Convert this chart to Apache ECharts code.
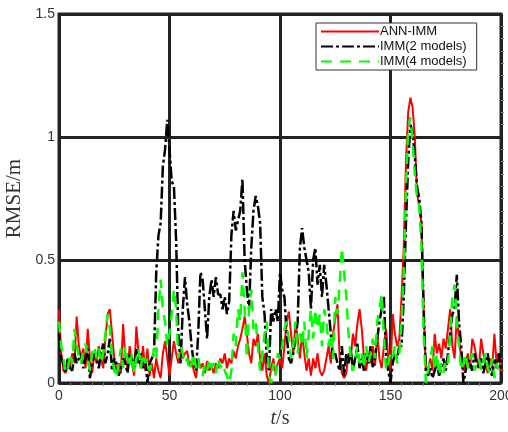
<!DOCTYPE html>
<html>
<head>
<meta charset="utf-8">
<script src="https://cdn.jsdelivr.net/npm/echarts@6/dist/echarts.min.js"></script>
<style>
  html, body { margin: 0; padding: 0; background: #fff; }
  #main { width: 508px; height: 432px; }
</style>
</head>
<body>
<div id="main"></div>
<script>
// 数据：t = 0..200 s，每秒一个点
var xTicks = [0, 50, 100, 150, 200];
var yTicks = [0, 0.5, 1, 1.5];
var names = ['ANN-IMM', 'IMM(2 models)', 'IMM(4 models)'];

// ANN-IMM
var annImm = [
  0.30, 0.12, 0.05, 0.04, 0.10, 0.07, 0.12, 0.08, 0.27, 0.15,
  0.10, 0.14, 0.06, 0.22, 0.10, 0.04, 0.12, 0.08, 0.15, 0.10,
  0.06, 0.18, 0.28, 0.30, 0.20, 0.10, 0.05, 0.08, 0.04, 0.24,
  0.10, 0.06, 0.15, 0.08, 0.03, 0.23, 0.12, 0.06, 0.15, 0.05,
  0.14, 0.03, 0.08, 0.02, 0.10, 0.05, 0.02, 0.12, 0.17, 0.10,
  0.03, 0.10, 0.17, 0.12, 0.08, 0.13, 0.10, 0.12, 0.13, 0.07,
  0.09, 0.05, 0.02, 0.10, 0.06, 0.08, 0.04, 0.09, 0.05, 0.07,
  0.04, 0.08, 0.06, 0.10, 0.08, 0.12, 0.06, 0.10, 0.08, 0.13,
  0.10, 0.15, 0.18, 0.22, 0.27, 0.20, 0.12, 0.08, 0.18, 0.15,
  0.20, 0.10, 0.05, 0.12, 0.03, 0.00, 0.06, 0.10, 0.04, 0.08,
  0.10, 0.06, 0.15, 0.25, 0.29, 0.20, 0.12, 0.24, 0.18, 0.10,
  0.20, 0.12, 0.05, 0.10, 0.03, 0.10, 0.06, 0.12, 0.05, 0.03,
  0.05, 0.10, 0.15, 0.08, 0.20, 0.26, 0.32, 0.10, 0.04, 0.02,
  0.04, 0.12, 0.10, 0.20, 0.15, 0.24, 0.30, 0.22, 0.10, 0.05,
  0.12, 0.08, 0.15, 0.07, 0.20, 0.10, 0.06, 0.15, 0.22, 0.10,
  0.05, 0.28, 0.20, 0.15, 0.18, 0.35, 0.55, 0.90, 1.10, 1.16,
  1.12, 1.00, 0.77, 0.72, 0.65, 0.30, 0.05, 0.06, 0.10, 0.05,
  0.20, 0.12, 0.16, 0.10, 0.18, 0.14, 0.22, 0.30, 0.15, 0.10,
  0.27, 0.18, 0.10, 0.05, 0.08, 0.12, 0.06, 0.18, 0.15, 0.10,
  0.06, 0.18, 0.12, 0.08, 0.04, 0.10, 0.06, 0.20, 0.08, 0.12,
  0.05
];

// IMM(2 models)
var imm2 = [
  0.20, 0.10, 0.08, 0.04, 0.10, 0.06, 0.05, 0.12, 0.08, 0.10,
  0.12, 0.06, 0.10, 0.14, 0.02, 0.08, 0.12, 0.10, 0.06, 0.12,
  0.16, 0.08, 0.12, 0.18, 0.05, 0.10, 0.08, 0.03, 0.06, 0.10,
  0.08, 0.04, 0.12, 0.10, 0.06, 0.14, 0.08, 0.12, 0.06, 0.10,
  0.00, 0.08, 0.10, 0.12, 0.45, 0.60, 0.65, 0.88, 0.95, 1.07,
  0.95, 0.82, 0.80, 0.58, 0.20, 0.08, 0.30, 0.43, 0.32, 0.25,
  0.15, 0.08, 0.05, 0.20, 0.45, 0.42, 0.30, 0.18, 0.35, 0.42,
  0.35, 0.43, 0.36, 0.36, 0.30, 0.35, 0.28, 0.33, 0.60, 0.70,
  0.62, 0.66, 0.70, 0.83, 0.50, 0.38, 0.30, 0.55, 0.70, 0.76,
  0.72, 0.65, 0.35, 0.28, 0.10, 0.05, 0.30, 0.25, 0.30, 0.25,
  0.45, 0.38, 0.35, 0.20, 0.10, 0.08, 0.12, 0.18, 0.25, 0.55,
  0.63, 0.55, 0.50, 0.45, 0.30, 0.50, 0.55, 0.40, 0.48, 0.35,
  0.48, 0.40, 0.30, 0.20, 0.10, 0.12, 0.08, 0.05, 0.15, 0.03,
  0.12, 0.08, 0.14, 0.05, 0.10, 0.16, 0.06, 0.10, 0.05, 0.12,
  0.08, 0.15, 0.06, 0.10, 0.18, 0.25, 0.30, 0.35, 0.10, 0.05,
  0.00, 0.08, 0.12, 0.10, 0.15, 0.15, 0.35, 0.65, 0.90, 1.05,
  1.02, 0.92, 0.80, 0.75, 0.65, 0.30, 0.05, 0.03, 0.06, 0.02,
  0.05, 0.08, 0.03, 0.06, 0.10, 0.05, 0.12, 0.20, 0.28, 0.30,
  0.44, 0.25, 0.15, 0.00, 0.05, 0.10, 0.08, 0.05, 0.12, 0.08,
  0.06, 0.10, 0.04, 0.08, 0.12, 0.05, 0.03, 0.10, 0.06, 0.12,
  0.05
];

// IMM(4 models)
var imm4 = [
  0.25, 0.15, 0.10, 0.04, 0.06, 0.12, 0.08, 0.22, 0.15, 0.10,
  0.08, 0.14, 0.16, 0.10, 0.05, 0.12, 0.15, 0.10, 0.14, 0.08,
  0.12, 0.20, 0.28, 0.22, 0.10, 0.05, 0.02, 0.08, 0.14, 0.06,
  0.15, 0.10, 0.06, 0.12, 0.04, 0.10, 0.14, 0.06, 0.12, 0.08,
  0.10, 0.05, 0.08, 0.14, 0.10, 0.30, 0.42, 0.30, 0.25, 0.15,
  0.20, 0.28, 0.38, 0.30, 0.10, 0.15, 0.12, 0.08, 0.10, 0.05,
  0.08, 0.12, 0.06, 0.10, 0.04, 0.03, 0.08, 0.05, 0.10, 0.06,
  0.08, 0.04, 0.10, 0.06, 0.08, 0.05, 0.03, 0.00, 0.05, 0.20,
  0.15, 0.30, 0.25, 0.45, 0.30, 0.10, 0.30, 0.38, 0.22, 0.25,
  0.15, 0.05, 0.12, 0.20, 0.25, 0.03, 0.00, 0.08, 0.03, 0.12,
  0.10, 0.15, 0.22, 0.25, 0.18, 0.10, 0.15, 0.25, 0.12, 0.20,
  0.15, 0.25, 0.10, 0.20, 0.30, 0.18, 0.30, 0.22, 0.28, 0.15,
  0.30, 0.25, 0.15, 0.20, 0.10, 0.35, 0.28, 0.40, 0.55, 0.45,
  0.35, 0.20, 0.10, 0.05, 0.10, 0.15, 0.08, 0.12, 0.06, 0.15,
  0.08, 0.12, 0.18, 0.10, 0.25, 0.30, 0.36, 0.20, 0.05, 0.08,
  0.12, 0.10, 0.15, 0.08, 0.12, 0.25, 0.45, 0.80, 1.03, 1.08,
  0.98, 0.85, 0.75, 0.72, 0.55, 0.20, 0.00, 0.05, 0.10, 0.15,
  0.05, 0.12, 0.03, 0.08, 0.04, 0.10, 0.08, 0.20, 0.35, 0.40,
  0.25, 0.15, 0.05, 0.08, 0.12, 0.06, 0.10, 0.12, 0.05, 0.08,
  0.10, 0.05, 0.08, 0.12, 0.06, 0.04, 0.10, 0.02, 0.08, 0.05,
  0.08
];

function toPairs(arr) {
    var out = [];
    for (var i = 0; i < arr.length; i++) {
        out.push([i, arr[i]]);
    }
    return out;
}

var myChart = echarts.init(document.getElementById('main'), null, { renderer: 'canvas' });

var tickFont = { color: '#333', fontSize: 14, fontFamily: 'Liberation Sans, Arial, sans-serif' };

var option = {
    backgroundColor: '#fff',
    animation: false,
    grid: {
        left: 59, right: 7, top: 14, bottom: 49,
        outerBoundsMode: 'none',
        containLabel: false,
        show: true,
        borderColor: '#222',
        borderWidth: 3,
        backgroundColor: '#fff'
    },
    legend: {
        orient: 'vertical',
        left: 316,
        top: 23,
        itemWidth: 58,
        itemHeight: 10,
        itemGap: 2,
        padding: [2, 10, 2, 4],
        backgroundColor: '#fff',
        borderColor: '#333',
        borderWidth: 1,
        borderRadius: 0,
        itemStyle: { opacity: 0 },
        textStyle: { color: '#111', fontSize: 13, fontFamily: 'Liberation Sans, Arial, sans-serif', padding: [0, 0, 0, -4] },
        data: names
    },
    xAxis: {
        type: 'value',
        min: xTicks[0],
        max: xTicks[xTicks.length - 1],
        interval: 50,
        name: '{i|t}/s',
        nameLocation: 'middle',
        nameGap: 26,
        nameTextStyle: {
            color: '#333',
            fontSize: 20,
            fontFamily: 'Liberation Serif, Times New Roman, serif',
            rich: {
                i: { fontStyle: 'italic', fontSize: 20, fontFamily: 'Liberation Serif, Times New Roman, serif', color: '#333' }
            }
        },
        axisLine: { show: false },
        axisTick: { show: false },
        minorTick: { show: true, splitNumber: 10, length: 3, lineStyle: { color: '#888', width: 1 } },
        axisLabel: Object.assign({ margin: 6 }, tickFont),
        splitLine: { show: true, lineStyle: { color: '#222', width: 3 } }
    },
    yAxis: [{
        type: 'value',
        min: yTicks[0],
        max: yTicks[yTicks.length - 1],
        interval: 0.5,
        name: 'RMSE/m',
        nameLocation: 'middle',
        nameGap: 31,
        nameTextStyle: { color: '#333', fontSize: 21, fontFamily: 'Liberation Serif, Times New Roman, serif' },
        axisLine: { show: false },
        axisTick: { show: false },
        axisLabel: Object.assign({ margin: 4 }, tickFont),
        splitLine: { show: true, lineStyle: { color: '#222', width: 3 } }
    }, {
        type: 'value',
        position: 'right',
        min: yTicks[0],
        max: yTicks[yTicks.length - 1],
        interval: 0.5,
        axisLine: { show: false },
        axisTick: { show: false },
        minorTick: { show: true, splitNumber: 10, length: 3, lineStyle: { color: '#888', width: 1 } },
        axisLabel: { show: false },
        splitLine: { show: false }
    }],
    series: [{
        name: names[0],
        type: 'line',
        data: toPairs(annImm),
        symbol: 'none',
        lineStyle: { color: '#ff0000', width: 2 },
        itemStyle: { color: '#ff0000' },
        z: 3
    }, {
        name: names[1],
        type: 'line',
        data: toPairs(imm2),
        symbol: 'none',
        lineStyle: { color: '#000000', width: 2.5, type: [12, 3, 3, 3] },
        itemStyle: { color: '#000000' },
        z: 4
    }, {
        name: names[2],
        type: 'line',
        data: toPairs(imm4),
        symbol: 'none',
        lineStyle: { color: '#00ff00', width: 2.5, type: [11, 8] },
        itemStyle: { color: '#00ff00' },
        z: 5
    }]
};

myChart.setOption(option);
</script>
</body>
</html>
